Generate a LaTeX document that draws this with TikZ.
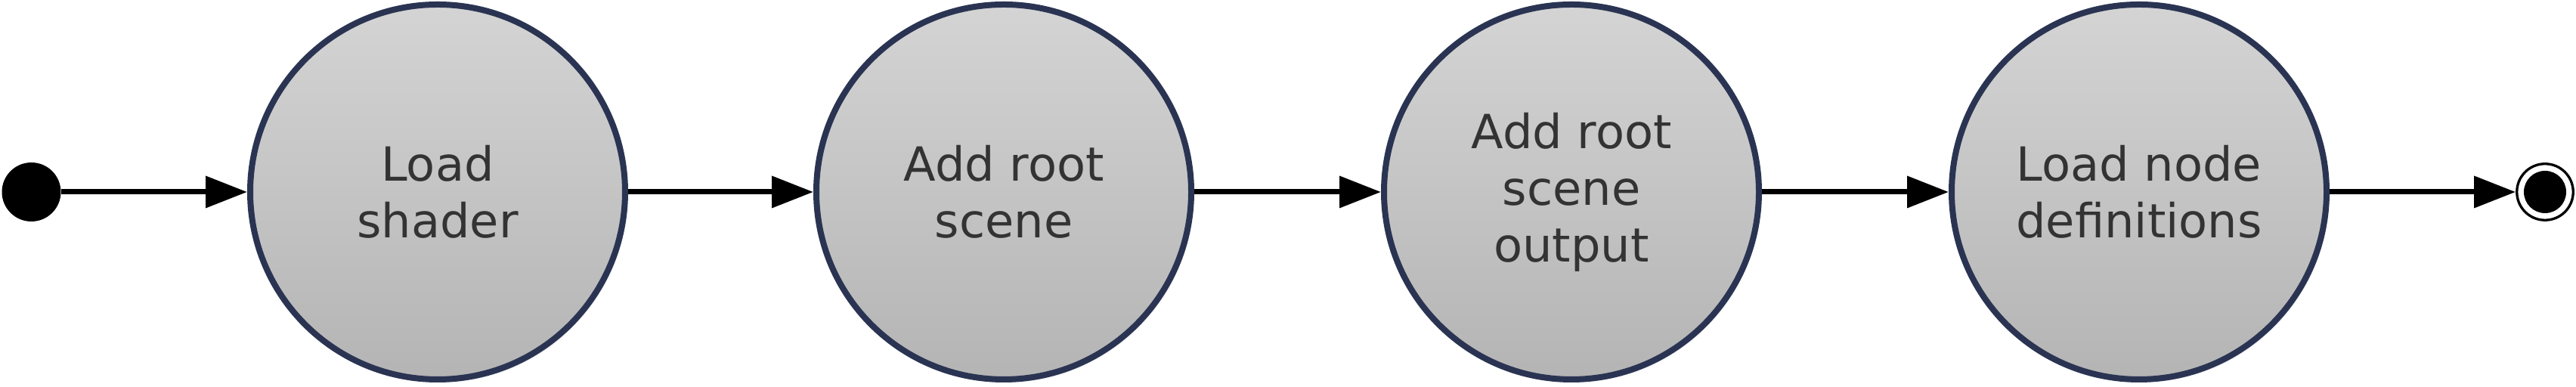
\documentclass[tikz,border=0pt]{standalone}
\usepackage{xcolor}
\usepackage{tikz}
\usepackage{fontspec}
\setmainfont{DejaVu Sans}
\usetikzlibrary{
  arrows.meta,
  positioning,
  shadows
}
\definecolor{stateEdge}{HTML}{2A3452}
\definecolor{stateTop}{HTML}{D4D4D4}
\definecolor{stateBottom}{HTML}{B4B4B4}
\definecolor{stateText}{HTML}{333333}

\begin{document}
\begin{tikzpicture}[
  state/.style={circle, draw=stateEdge, line width=0.08cm, minimum size=4.96cm,
    inner sep=0pt, top color=stateTop, bottom color=stateBottom,
    drop shadow={shadow xshift=0.03cm, shadow yshift=-0.04cm, opacity=0.18, fill=stateEdge!50},
    text=stateText, align=center, font=\fontsize{17.7}{21.3}\selectfont},
  flow/.style={line width=0.07cm, -{Triangle[length=0.55cm, width=0.41cm]}}
]
  % Page size
  \useasboundingbox (0,0) rectangle (34.08,5.12);
  % Initial and final pseudo-states
  \node[circle, fill=black, minimum size=0.78cm, inner sep=0pt] (init) at (0.415,2.58) {};
  \node[circle, draw=black, fill=white, line width=0.033cm, minimum size=0.745cm, inner sep=0pt] (final) at (33.67,2.58) {};
  \node[circle, fill=black, minimum size=0.56cm, inner sep=0pt] (finaldot) at (final.center) {};
  % Loading steps
  \node[state] (shader) at (5.79,2.58) {Load\\shader};
  \node[state] (rootscene) at (13.28,2.58) {Add root\\scene};
  \node[state] (sceneout) at (20.79,2.58) {Add root\\scene\\output};
  \node[state] (nodedefs) at (28.30,2.58) {Load node\\definitions};
  % Transitions
  \draw[flow] (init) -- (shader);
  \draw[flow] (shader) -- (rootscene);
  \draw[flow] (rootscene) -- (sceneout);
  \draw[flow] (sceneout) -- (nodedefs);
  \draw[flow] (nodedefs) -- (final);
\end{tikzpicture}
\end{document}
